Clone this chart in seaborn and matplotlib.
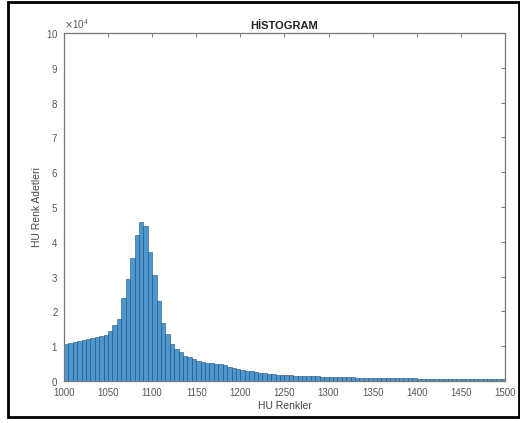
import numpy as np
import pandas as pd
import matplotlib
matplotlib.use("Agg")
import matplotlib.pyplot as plt
from matplotlib.patches import Rectangle
from matplotlib.ticker import ScalarFormatter
import seaborn as sns

# HU histogram: bin left edges (width 5) and counts in units of 1e4
bin_start = list(range(1000, 1500, 5))
counts_e4 = [
    1.08, 1.10, 1.13, 1.16, 1.19, 1.22, 1.25, 1.27, 1.29, 1.33,
    1.44, 1.60, 1.78, 2.40, 2.92, 3.55, 4.20, 4.58, 4.45, 3.72,
    3.06, 2.30, 1.68, 1.35, 1.06, 0.92, 0.83, 0.73, 0.68, 0.63,
    0.58, 0.54, 0.52, 0.51, 0.50, 0.48, 0.45, 0.42, 0.38, 0.35,
    0.32, 0.30, 0.28, 0.26, 0.24, 0.22, 0.21, 0.20, 0.19, 0.18,
    0.17, 0.165, 0.16, 0.155, 0.15, 0.145, 0.14, 0.135, 0.13, 0.125,
    0.12, 0.117, 0.114, 0.111, 0.108, 0.105, 0.102, 0.10, 0.098, 0.096,
    0.094, 0.092, 0.09, 0.088, 0.086, 0.084, 0.082, 0.08, 0.078, 0.076,
    0.074, 0.072, 0.071, 0.07, 0.069, 0.068, 0.067, 0.066, 0.065, 0.064,
    0.063, 0.062, 0.061, 0.06, 0.059, 0.058, 0.057, 0.056, 0.055, 0.054,
]
x_ticks = list(range(1000, 1501, 50))
y_ticks_e4 = list(range(0, 11))

df = pd.DataFrame({
    "hu": [b + 2.5 for b in bin_start],
    "count": [c * 1e4 for c in counts_e4],
})

sns.set_style("white")
plt.rcParams["font.family"] = ["Liberation Sans", "DejaVu Sans"]

fig = plt.figure(figsize=(5.20, 4.23), dpi=100)
ax = fig.add_axes([0.123, 0.099, 0.848, 0.823])

sns.histplot(data=df, x="hu", weights="count", binwidth=5, binrange=(1000, 1500),
             color="#3a8ccb", alpha=0.9, edgecolor="#234f73", linewidth=0.4, ax=ax)

ax.set_xlim(1000, 1500)
ax.set_ylim(0, 1e5)
ax.set_xticks(x_ticks)
ax.set_yticks([v * 1e4 for v in y_ticks_e4])

fmt = ScalarFormatter(useMathText=True)
fmt.set_powerlimits((4, 4))
ax.yaxis.set_major_formatter(fmt)
ax.yaxis.get_offset_text().set_fontsize(7)
ax.yaxis.get_offset_text().set_color("#555555")

axis_col = "#777777"
for s in ax.spines.values():
    s.set_visible(True)
    s.set_color(axis_col)
    s.set_linewidth(0.9)
ax.tick_params(direction="in", length=3, width=0.7, colors=axis_col,
               labelcolor="#555555", labelsize=7, top=True, right=True)
ax.tick_params(axis="x", pad=5)
ax.tick_params(axis="y", pad=4)

ax.set_xlabel("HU Renkler", fontsize=7.5, color="#444444", labelpad=2)
ax.set_ylabel("HU Renk Adetleri", fontsize=7.5, color="#444444", labelpad=10)
ax.yaxis.set_label_coords(-0.05, 0.5)
ax.set_title("HİSTOGRAM", fontsize=8, fontweight="bold", color="#222222", pad=3)

# Outer frame around the figure
fig.patches.append(Rectangle((8 / 520, 6 / 423), 511 / 520, 415 / 423,
                             transform=fig.transFigure, fill=False,
                             edgecolor="black", linewidth=2.0))

fig.savefig("out.png", dpi=100)
